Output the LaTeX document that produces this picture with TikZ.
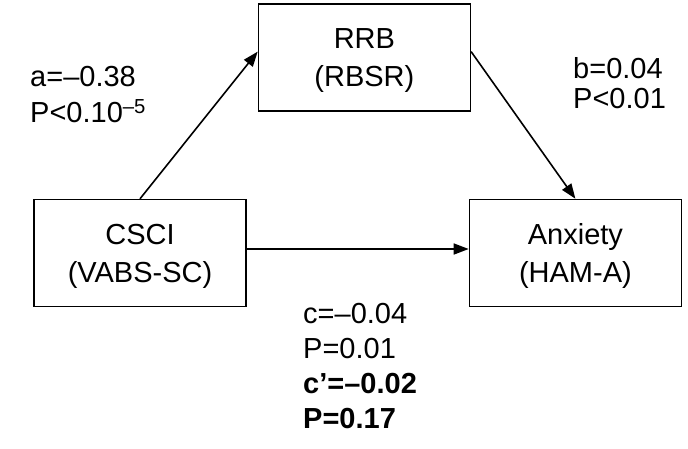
\documentclass[tikz,border=0pt]{standalone}
\usepackage{fontspec}
\setmainfont{Liberation Sans}
\usetikzlibrary{arrows.meta,positioning}

\begin{document}
\begin{tikzpicture}[
    x=1pt, y=-1pt,
    box/.style={rectangle, draw, line width=1.4pt, minimum width=212pt, minimum height=107pt, inner sep=0pt, text depth=0pt, align=center, font=\fontsize{29}{38}\selectfont},
    lbl/.style={inner sep=0pt, align=left, anchor=west},
    arr/.style={line width=1.6pt, -{Triangle[length=15pt,width=11pt]}}
]
    \useasboundingbox (0,0) rectangle (688,448);

    \node[box] (csci) at (140,253) {CSCI\\(VABS-SC)};
    \node[box, right=222pt of csci] (anx) {Anxiety\\(HAM-A)};
    \node[box, above right=87pt and 11pt of csci, anchor=south west] (rrb) {RRB\\(RBSR)};

    \draw[arr] (csci.north) -- ([yshift=6pt]rrb.west);
    \draw[arr] ([yshift=6pt]rrb.east) -- (anx.north);
    \draw[arr] ([yshift=4pt]csci.east) -- ([yshift=4pt]csci.east -| anx.west);

    % path labels
    \node[lbl, font=\fontsize{29}{36}\selectfont] (lbla) at (30,95) {a=--0.38\\P<0.10\textsuperscript{--5}};
    \node[lbl, font=\fontsize{29}{30}\selectfont] (lblb) at (573,83) {b=0.04\\P<0.01};
    \node[lbl, font=\fontsize{29}{35}\selectfont] (lblc) at (303,366) {c=--0.04\\P=0.01\\\textbf{c’=--0.02}\\\textbf{P=0.17}};
\end{tikzpicture}
\end{document}
